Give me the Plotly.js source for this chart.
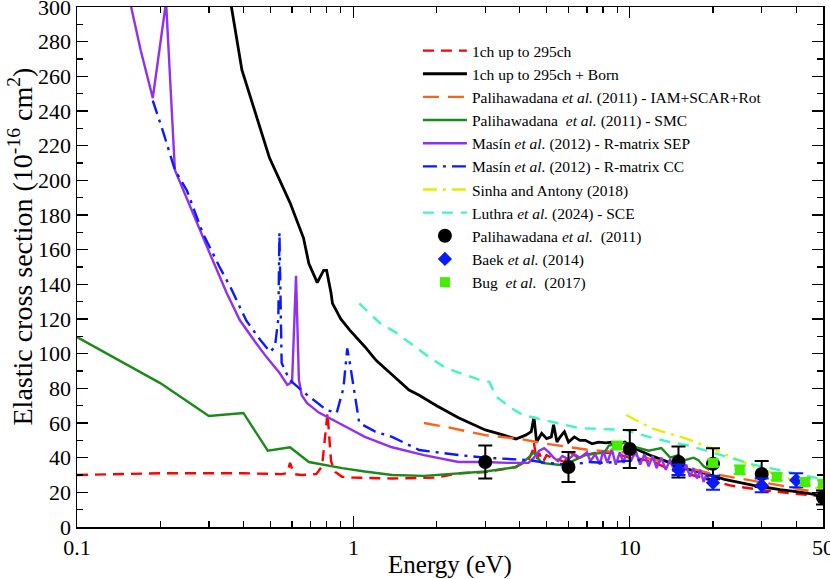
<!DOCTYPE html>
<html>
<head>
<meta charset="utf-8">
<script src="https://cdn.plot.ly/plotly-3.0.1.min.js"></script>
<style>html,body{margin:0;padding:0;background:#fff;}#chart{width:830px;height:579px;}</style>
</head>
<body>
<div id="chart"></div>
<script>
// 1ch up to 295ch
const redE = [0.1,0.2,0.4,0.55,0.575,0.59,0.61,0.65,0.735,0.77,0.806,0.83,0.86,0.91,1.0,1.38,2.0,2.4,3.0,3.87,4.3,4.45,4.5,4.6,4.7,4.85,5.0,5.2,5.5,5.8,6.1,6.5,6.9,7.5,8.4,9.3,9.9,10.5,12.4,14,17.8,23,30,40,50];
const redV = [30,31,31,30.5,31,37,30.5,30,30.6,35,65.8,38,31.7,29,28.5,28,28.5,31,31.7,34.6,38.6,44,48.5,38.6,42.7,37.5,41.5,40,39,37.5,43,40,41.5,42.7,43,41.5,40,40,37,33,29,24,21.3,19,17.5];
// 1ch up to 295ch + Born
const blackE = [0.355,0.362,0.395,0.45,0.497,0.59,0.66,0.69,0.74,0.78,0.8,0.83,0.84,0.9,0.97,1.1,1.21,1.4,1.59,1.73,2.0,2.4,3.0,3.5,3.87,4.2,4.4,4.5,4.6,4.8,5.0,5.2,5.3,5.45,5.6,5.8,6.0,6.3,6.6,6.9,7.3,7.7,8.2,8.6,9.0,9.6,10.2,12,14,16,18.7,22,28,35,42,50];
const blackV = [310,300,263.7,235,213,187,166.7,152,141,148,148,135,129,120,113.6,104,96,87,79,76,70,63,56,53,50.8,53,55,63.5,49,54,51,52,59,49,52,55,49,52,50,50,48,49,48.5,49,48,49,46,41,37,33.5,31,27.5,24,21.5,20,18];
// Palihawadana et al. (2011) - IAM+SCAR+Rot
const orangeE = [1.8,2.2,3.0,4.0,5.0,6.1,7.1,8.5,9.6,11,12.4,14,16,19.4,23,28,35,42,50];
const orangeV = [60,57.5,53,50.8,48,46,44.5,43.5,43,40.5,38.6,37,34.5,31,29,27,24,21.5,19.5];
// Palihawadana et al. (2011) - SMC
const greenE = [0.1,0.2,0.3,0.4,0.49,0.59,0.69,0.8,0.91,1.1,1.38,1.8,2.4,3.0,3.5,3.87,4.2,4.5,4.8,5.2,5.6,6.2,6.9,8.1,8.4,9.6,10.5,11.7,13,14,15,15.8,17,17.7,18.5,19.4];
const greenV = [109.6,83,64,65.8,44,46,37.5,35.5,34,32,30,29.5,31,32,33.5,34.6,38.6,43,37,36.5,35.8,38,41.5,43,47,48.5,46,44,45.6,40,41.5,38.6,40,38.6,35,33];
// Masín et al. (2012) - R-matrix SEP
const purpleE = [0.155,0.17,0.188,0.21,0.226,0.262,0.302,0.348,0.388,0.44,0.485,0.54,0.577,0.6,0.62,0.635,0.65,0.68,0.75,0.91,1.1,1.38,1.8,2.4,3.0,3.6,4.3,4.5,4.7,4.9,5.1,5.3,5.5,5.7,6.0,6.3,6.6,7.0,7.2,7.5,7.8,8.0,8.3,8.6,8.9,9.2,9.5,9.8,10.1,10.5,10.9,11.3,11.7,12.1,12.5,13,13.5,14,14.5,15,15.5,16,16.5,17,17.5,18,18.5,19,19.5,20];
const purpleV = [304,275,247.5,303,206,181,158,135,119.4,107,98,89,82,83.6,145,85,76,71.5,66,59,52,46,41.5,37.5,37.5,37,37,40,44,45.5,43,40,38,41,39,42,40,43,38,42,36,44,37,45,36,43,37,46,38,44,36,42,35,41,34,40,33,39,32,37,30,36,29,34,28,33,26,31,25,28];
// Masín et al. (2012) - R-matrix CC
const blueE = [0.188,0.204,0.226,0.25,0.285,0.328,0.36,0.41,0.46,0.5,0.52,0.535,0.54,0.545,0.55,0.587,0.67,0.8,0.87,0.92,0.95,0.97,0.99,1.05,1.2,1.38,1.73,2.4,3.0,4.3,5.0,6.1,7.1,8.1,9.5,11];
const blueV = [246,229,206,194,169.6,150,138,119,108,101,104,120,170,130,94.6,85,77,67.5,65.8,80,103,95,86.5,60,55,52,44.4,41.5,40,38.6,37,35.8,37.5,37,38,38.6];
// Sinha and Antony (2018)
const yellowE = [9.7,10.7,12,16,20,28,37.5,50];
const yellowV = [64.6,61,57,51,45,35,28,21];
// Luthra et al. (2024) - SCE
const cyanE = [1.05,1.24,1.43,1.88,2.16,2.85,3.1,3.3,3.7,4.1,4.9,6.6,9.6,11.7,14,16.3,19.4,23,28,37.5,50];
const cyanV = [129,118,112,98,91.7,85,83.7,75,69,64.6,61.7,57,56,52,49,47,43.5,40,36,31.7,27.5];
// Palihawadana et al. (2011) experiment
const palE = [3,6,10,15,20,30,50];
const palV = [37.5,34.6,45,37.5,36.5,30.6,17];
const palErr = [9.5,8.7,11,9,9,7.5,4];
// Baek et al. (2014)
const baekE = [15,20,30,40];
const baekV = [33,25.5,24,27];
const baekErr = [3,4,4,4];
// Bug et al. (2017)
const bugE = [9,20,25,34,43,50];
const bugV = [47,37,33,29,26,25];
const bugErr = [2,2,2.5,2,2,2];

const xTickVals = [0.1,1,10,50];
const xTickText = ['0.1','1','10','50'];
const xMinorVals = [0.2,0.3,0.4,0.5,0.6,0.7,0.8,0.9,2,3,4,5,6,7,8,9,20,30,40];
const yTitle = 'Elastic cross section (10<sup>-16</sup> cm<sup>2</sup>)';

const FONT = 'Liberation Serif';
const W = 2.4;
const traces = [
  {x: redE, y: redV, name: '1ch up to 295ch', mode: 'lines', line: {color: '#ff0000', width: W, dash: '11px,7px'}},
  {x: blackE, y: blackV, name: '1ch up to 295ch + Born', mode: 'lines', line: {color: '#000000', width: W + 0.4}},
  {x: orangeE, y: orangeV, name: 'Palihawadana <i>et al.</i> (2011) - IAM+SCAR+Rot', mode: 'lines', line: {color: '#ff6015', width: W, dash: '16px,9px'}},
  {x: greenE, y: greenV, name: 'Palihawadana  <i>et al.</i> (2011) - SMC', mode: 'lines', line: {color: '#1a8a1a', width: W}},
  {x: purpleE, y: purpleV, name: 'Masín <i>et al.</i> (2012) - R-matrix SEP', mode: 'lines', line: {color: '#9030f0', width: W}},
  {x: blueE, y: blueV, name: 'Masín <i>et al.</i> (2012) - R-matrix CC', mode: 'lines', line: {color: '#0a1aff', width: W, dash: '14px,6px,3px,6px'}},
  {x: yellowE, y: yellowV, name: 'Sinha and Antony (2018)', mode: 'lines', line: {color: '#e0f000', width: W, dash: '14px,6px,3px,6px'}},
  {x: cyanE, y: cyanV, name: 'Luthra <i>et al.</i> (2024) - SCE', mode: 'lines', line: {color: '#40f5c8', width: W, dash: '11px,8px'}},
  {x: palE, y: palV, name: 'Palihawadana <i>et al.</i>  (2011)', mode: 'markers', marker: {color: '#000000', size: 14, symbol: 'circle'},
    error_y: {type: 'data', array: palErr, color: '#000000', thickness: 2, width: 7}},
  {x: baekE, y: baekV, name: 'Baek <i>et al.</i> (2014)', mode: 'markers', marker: {color: '#0a1aff', size: 11, symbol: 'diamond'},
    error_y: {type: 'data', array: baekErr, color: '#0a1aff', thickness: 2, width: 7}},
  {x: bugE, y: bugV, name: 'Bug  <i>et al.</i>  (2017)', mode: 'markers', marker: {color: '#44ee00', size: 10, symbol: 'square'},
    error_y: {type: 'data', array: bugErr, color: '#44ee00', thickness: 2, width: 6}}
];

const layout = {
  width: 830, height: 579,
  margin: {l: 77, r: 7, t: 7, b: 52},
  paper_bgcolor: '#ffffff', plot_bgcolor: '#ffffff',
  font: {family: FONT, color: '#000'},
  showlegend: true,
  legend: {x: 0.457, y: 0.948, xanchor: 'left', yanchor: 'top', bgcolor: 'rgba(0,0,0,0)', borderwidth: 0,
    font: {family: FONT, size: 15.5, color: '#000'}, itemwidth: 44, tracegroupgap: 0},
  xaxis: {
    type: 'log', range: [-1, Math.log10(50)],
    tickmode: 'array', tickvals: xTickVals, ticktext: xTickText,
    ticks: 'inside', ticklen: 11, tickwidth: 1.3, tickcolor: '#000',
    minor: {tickmode: 'array', tickvals: xMinorVals, ticks: 'inside', ticklen: 6, tickwidth: 1.3, tickcolor: '#000', showgrid: false},
    showline: true, linecolor: '#000', linewidth: 1.5, mirror: 'ticks',
    showgrid: false, zeroline: false, ticklabeloverflow: 'allow',
    tickfont: {family: FONT, size: 22, color: '#000'},
    title: {text: 'Energy (eV)', font: {family: FONT, size: 25, color: '#000'}, standoff: 2}
  },
  yaxis: {
    range: [0, 300], dtick: 20, tick0: 0,
    ticks: 'inside', ticklen: 11, tickwidth: 1.3, tickcolor: '#000',
    minor: {dtick: 10, ticks: 'inside', ticklen: 6, tickwidth: 1.3, tickcolor: '#000', showgrid: false},
    showline: true, linecolor: '#000', linewidth: 1.5, mirror: 'ticks',
    showgrid: false, zeroline: false, ticklabeloverflow: 'allow',
    tickfont: {family: FONT, size: 22, color: '#000'}
  },
  annotations: [{
    text: yTitle, textangle: -90, showarrow: false,
    xref: 'paper', yref: 'paper', x: -0.076, y: 0.54, xanchor: 'center', yanchor: 'middle',
    font: {family: FONT, size: 28, color: '#000'}
  }]
};

Plotly.newPlot('chart', traces, layout, {displayModeBar: false, staticPlot: true});
</script>
</body>
</html>
